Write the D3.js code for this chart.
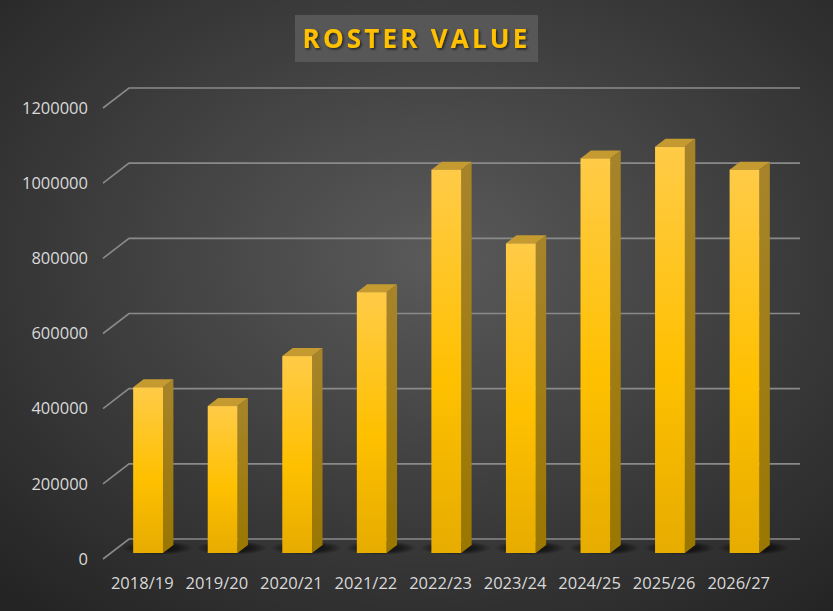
<!DOCTYPE html>
<html>
<head>
<meta charset="utf-8">
<script src="https://cdn.jsdelivr.net/npm/d3@7"></script>
<style>
  html, body { margin: 0; padding: 0; background: #2b2b2b; }
  svg { display: block; }
</style>
</head>
<body>
<div id="chart"></div>
<script>
const seasons = ['2018/19', '2019/20', '2020/21', '2021/22', '2022/23', '2023/24', '2024/25', '2025/26', '2026/27']
const rosterValues = [441000, 391000, 524000, 694000, 1020000, 824000, 1050000, 1081000, 1020000]
const yTicks = [0, 200000, 400000, 600000, 800000, 1000000, 1200000]

const width = 833
const height = 611

// front plane of the 3d box, and the depth vector to the back wall
const front = { left: 103, right: 774, bottom: 559 }
const depth = { dx: 26, dy: -20 }
const barDepth = [0.3, 0.7]

const svg = d3
  .select('#chart')
  .append('svg')
  .attr('width', width)
  .attr('height', height)

const defs = svg.append('defs')

const bg = defs.append('radialGradient')
  .attr('id', 'bg')
  .attr('cx', '0.52').attr('cy', '0.42').attr('r', '0.75')
bg.append('stop').attr('offset', '0%').attr('stop-color', '#5a5a5a')
bg.append('stop').attr('offset', '100%').attr('stop-color', '#242424')

const frontGrad = defs.append('linearGradient')
  .attr('id', 'barFront').attr('x1', 0).attr('y1', 0).attr('x2', 0).attr('y2', 1)
frontGrad.append('stop').attr('offset', '0%').attr('stop-color', '#FFCB47')
frontGrad.append('stop').attr('offset', '55%').attr('stop-color', '#FFC000')
frontGrad.append('stop').attr('offset', '100%').attr('stop-color', '#E6AC00')

const sideGrad = defs.append('linearGradient')
  .attr('id', 'barSide').attr('x1', 0).attr('y1', 0).attr('x2', 0).attr('y2', 1)
sideGrad.append('stop').attr('offset', '0%').attr('stop-color', '#A7842A')
sideGrad.append('stop').attr('offset', '100%').attr('stop-color', '#9A7700')

const shadowGrad = defs.append('radialGradient').attr('id', 'floorShadow')
shadowGrad.append('stop').attr('offset', '0%').attr('stop-color', '#000').attr('stop-opacity', 0.85)
shadowGrad.append('stop').attr('offset', '60%').attr('stop-color', '#000').attr('stop-opacity', 0.5)
shadowGrad.append('stop').attr('offset', '100%').attr('stop-color', '#000').attr('stop-opacity', 0)

const titleShadow = defs.append('filter').attr('id', 'tshadow')
titleShadow.append('feDropShadow')
  .attr('dx', 1.5).attr('dy', 1.5).attr('stdDeviation', 1)
  .attr('flood-color', '#000').attr('flood-opacity', 0.6)

svg.append('rect')
  .attr('width', width).attr('height', height)
  .attr('fill', 'url(#bg)')

const xPositionScale = d3.scaleBand()
  .domain(seasons)
  .range([front.left, front.right])

const yPositionScale = d3.scaleLinear()
  .domain([0, 1200000])
  .range([0, 451])

// project a point (x on front plane, height h, depth z 0..1)
function proj(x, h, z) {
  return [x + z * depth.dx, front.bottom - h + z * depth.dy]
}

// gridlines: back wall + left wall diagonal
const grid = svg.append('g').attr('class', 'grid')
yTicks.forEach(t => {
  const h = yPositionScale(t)
  const a = proj(front.left, h, 0)
  const b = proj(front.left, h, 1)
  const c = proj(front.right, h, 1)
  grid.append('path')
    .attr('d', `M${a[0]},${a[1]}L${b[0]},${b[1]}L${c[0]},${c[1]}`)
    .attr('fill', 'none')
    .attr('stroke', '#8a8a8a')
    .attr('stroke-width', 1.6)
})

// y tick labels
svg.append('g')
  .selectAll('text')
  .data(yTicks)
  .enter()
  .append('text')
  .attr('x', 88)
  .attr('y', d => front.bottom - yPositionScale(d))
  .attr('dy', '0.35em')
  .attr('text-anchor', 'end')
  .attr('fill', '#d9d9d9')
  .attr('font-family', 'Open Sans, sans-serif')
  .attr('font-size', 16.5)
  .text(d => d)

const bw = xPositionScale.bandwidth()
const barW = bw * 0.4

const bars = svg.append('g')
  .selectAll('g')
  .data(seasons.map((s, i) => ({ season: s, value: rosterValues[i] })))
  .enter()
  .append('g')

// soft shadow on the floor
bars.append('ellipse')
  .attr('cx', d => proj(xPositionScale(d.season) + bw / 2, 0, 0.5)[0] + 4)
  .attr('cy', d => proj(0, 0, 0.55)[1])
  .attr('rx', barW * 1.2)
  .attr('ry', 7)
  .attr('fill', 'url(#floorShadow)')

function face(pts) {
  return 'M' + pts.map(p => p.join(',')).join('L') + 'Z'
}

bars.each(function (d) {
  const g = d3.select(this)
  const x0 = xPositionScale(d.season) + (bw - barW) / 2
  const x1 = x0 + barW
  const h = yPositionScale(d.value)
  const [z0, z1] = barDepth

  // side face
  g.append('path')
    .attr('d', face([proj(x1, 0, z0), proj(x1, h, z0), proj(x1, h, z1), proj(x1, 0, z1)]))
    .attr('fill', 'url(#barSide)')
  // top face
  g.append('path')
    .attr('d', face([proj(x0, h, z0), proj(x1, h, z0), proj(x1, h, z1), proj(x0, h, z1)]))
    .attr('fill', '#C49A31')
  // front face
  const p = proj(x0, h, z0)
  g.append('rect')
    .attr('x', p[0])
    .attr('y', p[1])
    .attr('width', barW)
    .attr('height', h)
    .attr('fill', 'url(#barFront)')
})

// category labels
svg.append('g')
  .selectAll('text')
  .data(seasons)
  .enter()
  .append('text')
  .attr('x', d => xPositionScale(d) + bw / 2 + 2)
  .attr('y', 583)
  .attr('dy', '0.35em')
  .attr('text-anchor', 'middle')
  .attr('fill', '#d9d9d9')
  .attr('font-family', 'Open Sans, sans-serif')
  .attr('font-size', 16.5)
  .text(d => d)

// title
svg.append('rect')
  .attr('x', 295).attr('y', 15)
  .attr('width', 243).attr('height', 47)
  .attr('fill', '#575757')

svg.append('text')
  .attr('x', 416.5)
  .attr('y', 39)
  .attr('dy', '0.35em')
  .attr('text-anchor', 'middle')
  .attr('fill', '#FFC000')
  .attr('font-family', 'Open Sans, sans-serif')
  .attr('font-weight', 'bold')
  .attr('font-size', 26)
  .attr('letter-spacing', 3.2)
  .attr('filter', 'url(#tshadow)')
  .text('ROSTER VALUE')
</script>
</body>
</html>
